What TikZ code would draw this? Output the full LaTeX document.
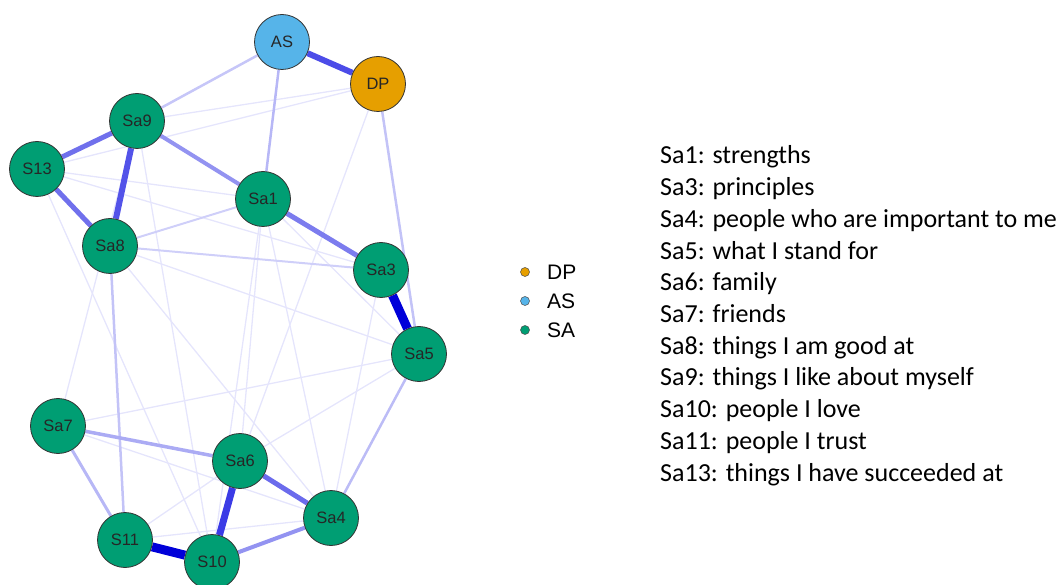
\documentclass[tikz,border=0pt]{standalone}
\usepackage{fontspec}
\setmainfont{Carlito}
\newfontfamily\arialf{Liberation Sans}
\usetikzlibrary{backgrounds}
\definecolor{sagreen}{HTML}{009E73}
\definecolor{asblue}{HTML}{56B4E9}
\definecolor{dporange}{HTML}{E69F00}
\definecolor{edgeblue}{HTML}{1010E0}
\tikzset{
  vnode/.style={circle, draw=black!80, line width=0.8pt, minimum size=55pt, inner sep=0pt, font=\arialf\fontsize{16.5}{18}\selectfont, text=black!85},
  sanode/.style={vnode, fill=sagreen},
  asnode/.style={vnode, fill=asblue},
  dpnode/.style={vnode, fill=dporange},
  e/.style={draw=edgeblue!#1!white},
  faint/.style={draw=edgeblue!11!white, line width=1.3pt},
  legdot/.style={circle, draw=black!70, line width=0.5pt, minimum size=9pt, inner sep=0pt},
  legtext/.style={anchor=west, font=\arialf\fontsize{21}{22}\selectfont, inner sep=0pt},
  item/.style={anchor=base west, font=\fontsize{26}{28}\selectfont, inner sep=0pt}
}
\begin{document}
\begin{tikzpicture}[x=1pt,y=-1pt]
\useasboundingbox (0,0) rectangle (1063,585);
% nodes
\node[asnode] (AS) at (282,42) {AS};
\node[dpnode] (DP) at (378,84) {DP};
\node[sanode] (Sa9) at (137,121) {Sa9};
\node[sanode] (S13) at (37,169) {S13};
\node[sanode] (Sa1) at (263,199) {Sa1};
\node[sanode] (Sa8) at (110,246) {Sa8};
\node[sanode] (Sa3) at (381,270) {Sa3};
\node[sanode] (Sa5) at (419,354) {Sa5};
\node[sanode] (Sa7) at (58,426) {Sa7};
\node[sanode] (Sa6) at (240,461) {Sa6};
\node[sanode] (Sa4) at (331,518) {Sa4};
\node[sanode] (S11) at (125,540) {S11};
\node[sanode] (S10) at (212,562) {S10};
\begin{pgfonlayer}{background}
% faint edges
\foreach \a/\b in {S13/Sa1, Sa7/Sa4, Sa8/Sa5, Sa7/Sa5, Sa6/Sa5, Sa1/Sa4, Sa1/Sa6, Sa9/S10, S13/S10, Sa9/Sa7, Sa9/DP, S13/DP, Sa1/Sa5, S11/Sa6, S11/Sa4, Sa3/Sa4, Sa9/Sa3, Sa8/Sa4, DP/Sa6, Sa1/S10, S13/Sa3}
  \draw[faint] (\a) -- (\b);
% weaker edges
\draw[e=20, line width=2pt] (Sa1) -- (Sa8);
\draw[e=20, line width=2pt] (Sa8) -- (Sa3);
\draw[e=24, line width=2.5pt] (AS) -- (Sa9);
\draw[e=30, line width=2.5pt] (AS) -- (Sa1);
\draw[e=25, line width=2.5pt] (DP) -- (Sa5);
\draw[e=28, line width=2.5pt] (Sa5) -- (Sa4);
\draw[e=25, line width=2.5pt] (Sa8) -- (S11);
\draw[e=30, line width=3pt] (Sa7) -- (S11);
\draw[e=35, line width=3.5pt] (Sa7) -- (Sa6);
% medium edges
\draw[e=45, line width=4pt] (Sa9) -- (Sa1);
\draw[e=45, line width=4pt] (S10) -- (Sa4);
\draw[e=55, line width=5pt] (Sa1) -- (Sa3);
\draw[e=60, line width=5pt] (S13) -- (Sa9);
\draw[e=60, line width=5pt] (S13) -- (Sa8);
\draw[e=62, line width=5pt] (Sa6) -- (Sa4);
% strong edges
\draw[e=72, line width=6pt] (Sa9) -- (Sa8);
\draw[e=75, line width=6pt] (AS) -- (DP);
\draw[e=82, line width=7pt] (Sa6) -- (S10);
\draw[draw=blue!85!black, line width=9pt] (Sa3) -- (Sa5);
\draw[draw=blue!85!black, line width=9pt] (S11) -- (S10);
\end{pgfonlayer}
% legend
\node[legdot, fill=dporange] (ldp) at (525,272) {};
\node[legdot, fill=asblue] (las) at (525,301) {};
\node[legdot, fill=sagreen] (lsa) at (525,330) {};
\node[legtext] (tdp) at (547,272) {DP};
\node[legtext] (tas) at (547,301) {AS};
\node[legtext] (tsa) at (547,330) {SA};
% item list
\node[item] (i1) at (660,164) {Sa1: strengths};
\node[item] (i2) at (660,195.7) {Sa3: principles};
\node[item] (i3) at (660,227.4) {Sa4: people who are important to me};
\node[item] (i4) at (660,259.1) {Sa5: what I stand for};
\node[item] (i5) at (660,290.8) {Sa6: family};
\node[item] (i6) at (660,322.5) {Sa7: friends};
\node[item] (i7) at (660,354.2) {Sa8: things I am good at};
\node[item] (i8) at (660,385.9) {Sa9: things I like about myself};
\node[item] (i9) at (660,417.6) {Sa10: people I love};
\node[item] (i10) at (660,449.3) {Sa11: people I trust};
\node[item] (i11) at (660,481) {Sa13: things I have succeeded at};
\end{tikzpicture}
\end{document}
